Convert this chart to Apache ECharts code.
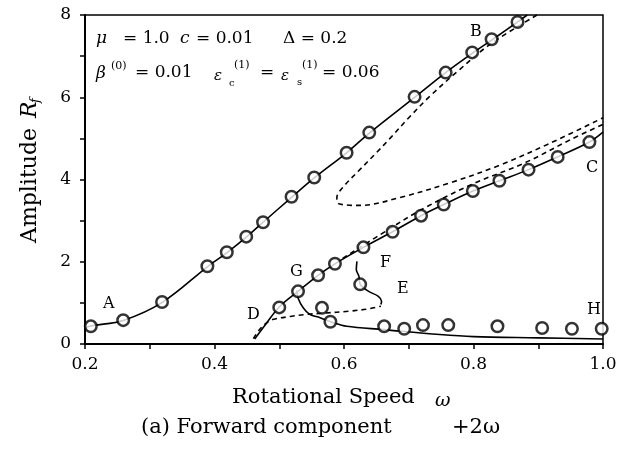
<!DOCTYPE html>
<html>
<head>
<meta charset="utf-8">
<script src="https://cdn.jsdelivr.net/npm/echarts@6/dist/echarts.min.js"></script>
<style>
  html, body { margin: 0; padding: 0; background: #fff; }
  #chart { width: 622px; height: 449px; }
</style>
</head>
<body>
<div id="chart"></div>
<script>
// 上支 A-B：实线 + 圆圈
var abLineX = [0.2, 0.21, 0.26, 0.32, 0.39, 0.42, 0.45, 0.475, 0.52, 0.555, 0.604, 0.64, 0.71, 0.757, 0.8, 0.83, 0.868, 0.883];
var abLineY = [0.40, 0.44, 0.58, 1.02, 1.89, 2.23, 2.61, 2.96, 3.58, 4.05, 4.65, 5.14, 6.01, 6.60, 7.09, 7.41, 7.83, 8.0];
var abDotX = [0.209, 0.259, 0.319, 0.389, 0.419, 0.449, 0.475, 0.519, 0.554, 0.604, 0.639, 0.709, 0.757, 0.798, 0.828, 0.868];
var abDotY = [0.43, 0.58, 1.02, 1.89, 2.23, 2.61, 2.96, 3.58, 4.05, 4.65, 5.14, 6.01, 6.60, 7.09, 7.41, 7.83];

// 上支折回的虚线
var foldX = [0.898, 0.825, 0.779, 0.733, 0.70, 0.671, 0.65, 0.622, 0.60, 0.589, 0.592, 0.625, 0.686, 0.764, 0.841, 0.918, 1.0];
var foldY = [8.0, 7.28, 6.68, 6.03, 5.50, 5.00, 4.65, 4.20, 3.84, 3.56, 3.41, 3.37, 3.56, 3.92, 4.35, 4.88, 5.50];

// 下支 D-G-C：实线 + 圆圈
var cLineX = [0.462, 0.48, 0.50, 0.529, 0.56, 0.586, 0.63, 0.675, 0.719, 0.754, 0.799, 0.84, 0.885, 0.93, 0.979, 1.0];
var cLineY = [0.12, 0.50, 0.90, 1.28, 1.67, 1.95, 2.35, 2.73, 3.12, 3.39, 3.72, 3.97, 4.24, 4.55, 4.91, 5.15];
var cDotX = [0.50, 0.529, 0.56, 0.586, 0.63, 0.675, 0.719, 0.754, 0.799, 0.84, 0.885, 0.93, 0.979];
var cDotY = [0.89, 1.28, 1.67, 1.95, 2.35, 2.73, 3.12, 3.39, 3.72, 3.97, 4.24, 4.55, 4.91];

// C 支上方的虚线
var cDashX = [0.598, 0.656, 0.72, 0.80, 0.88, 0.95, 1.0];
var cDashY = [2.08, 2.66, 3.27, 3.90, 4.41, 4.97, 5.34];

// D-E 虚线
var deX = [0.46, 0.47, 0.481, 0.491, 0.517, 0.542, 0.568, 0.609, 0.64, 0.657];
var deY = [0.13, 0.36, 0.52, 0.60, 0.67, 0.72, 0.75, 0.80, 0.86, 0.92];

// E-F 实线
var efX = [0.620, 0.619, 0.623, 0.625, 0.638, 0.653, 0.658, 0.657];
var efY = [2.01, 1.81, 1.65, 1.45, 1.28, 1.16, 1.04, 0.96];
var eDotX = [0.625];
var eDotY = [1.45];

// G-H 实线 + 圆圈
var ghX = [0.527, 0.529, 0.537, 0.547, 0.563, 0.583, 0.604, 0.661, 0.748, 0.8, 0.9, 1.0];
var ghY = [1.30, 1.12, 0.88, 0.72, 0.64, 0.52, 0.43, 0.35, 0.23, 0.18, 0.15, 0.12];
var hDotX = [0.566, 0.579, 0.662, 0.693, 0.722, 0.761, 0.837, 0.906, 0.952, 0.998];
var hDotY = [0.88, 0.54, 0.43, 0.37, 0.46, 0.46, 0.43, 0.39, 0.37, 0.37];

var xTicks = [0.2, 0.4, 0.6, 0.8, 1.0];
var yTicks = [0, 2, 4, 6, 8];

function zip(xs, ys) {
  return xs.map(function (x, i) { return [x, ys[i]]; });
}

var FONT = "DejaVu Serif";

function curve(name, xs, ys, dashed) {
  return {
    type: "line",
    name: name,
    data: zip(xs, ys),
    smooth: 0.35,
    symbol: "none",
    silent: true,
    lineStyle: { color: "#000", width: 1.6, type: dashed ? [5, 4] : "solid" },
    z: 2
  };
}

function txt(x, y, s, size, italic, align) {
  return {
    type: "text",
    x: x,
    y: y,
    style: {
      text: s,
      fontFamily: FONT,
      fontSize: size,
      fontStyle: italic ? "italic" : "normal",
      fill: "#000",
      align: align || "left",
      verticalAlign: "middle"
    }
  };
}

var chart = echarts.init(document.getElementById("chart"));
chart.setOption({
  backgroundColor: "#fff",
  animation: false,
  grid: {
    left: 85, right: 19, top: 15, bottom: 105,
    show: true, borderColor: "#000", borderWidth: 1.5
  },
  xAxis: {
    type: "value",
    min: xTicks[0],
    max: xTicks[xTicks.length - 1],
    interval: 0.2,
    axisLine: { lineStyle: { color: "#000", width: 2 } },
    axisTick: { inside: false, length: 5, lineStyle: { color: "#000", width: 1.5 } },
    minorTick: { show: true, splitNumber: 2, length: 5, lineStyle: { color: "#000", width: 1.5 } },
    splitLine: { show: false },
    axisLabel: {
      margin: 12, color: "#000", fontFamily: FONT, fontSize: 17,
      formatter: function (v) { return v.toFixed(1); }
    }
  },
  yAxis: {
    type: "value",
    min: yTicks[0],
    max: yTicks[yTicks.length - 1],
    interval: 2,
    axisLine: { show: true, lineStyle: { color: "#000", width: 2 } },
    axisTick: { show: true, inside: false, length: 5, lineStyle: { color: "#000", width: 1.5 } },
    minorTick: { show: true, splitNumber: 2, length: 5, lineStyle: { color: "#000", width: 1.5 } },
    splitLine: { show: false },
    axisLabel: { margin: 14, color: "#000", fontFamily: FONT, fontSize: 17 }
  },
  series: [
    curve("AB", abLineX, abLineY, false),
    curve("fold", foldX, foldY, true),
    curve("C", cLineX, cLineY, false),
    curve("C dashed", cDashX, cDashY, true),
    curve("DE", deX, deY, true),
    curve("EF", efX, efY, false),
    curve("GH", ghX, ghY, false),
    {
      type: "scatter",
      name: "circles",
      data: zip(abDotX, abDotY)
        .concat(zip(cDotX, cDotY))
        .concat(zip(eDotX, eDotY))
        .concat(zip(hDotX, hDotY)),
      symbol: "circle",
      symbolSize: 11.5,
      itemStyle: { color: "#fff", borderColor: "#000", borderWidth: 2.5 },
      silent: true,
      z: 3
    }
  ],
  graphic: [
    // 曲线标注
    txt(103, 304, "A", 16),
    txt(470, 32, "B", 16),
    txt(586, 168, "C", 16),
    txt(247, 315, "D", 16),
    txt(397, 289, "E", 16),
    txt(380, 263, "F", 16),
    txt(290, 272, "G", 16),
    txt(587, 310, "H", 16),
    // 参数
    txt(96, 39, "μ", 17, true),
    txt(123, 39, "= 1.0", 17),
    txt(180, 39, "c", 17, true),
    txt(196, 39, "= 0.01", 17),
    txt(283, 39, "Δ = 0.2", 17),
    txt(96, 74, "β", 17, true),
    txt(111, 66, "(0)", 11),
    txt(135, 73, "= 0.01", 17),
    txt(214, 76, "ε", 15, true),
    txt(229, 83, "c", 10),
    txt(234, 65, "(1)", 11),
    txt(260, 73, "=", 17),
    txt(281, 76, "ε", 15, true),
    txt(297, 82, "s", 10),
    txt(302, 65, "(1)", 11),
    txt(322, 73, "= 0.06", 17),
    // x 轴标题和图注
    txt(232, 398, "Rotational Speed", 21),
    txt(435, 401, "ω", 19, true),
    txt(141, 428, "(a) Forward component", 21),
    txt(452, 428, "+2ω", 21),
    // y 轴标题（旋转）
    {
      type: "group",
      x: 30,
      y: 170,
      rotation: Math.PI / 2,
      children: [
        txt(-73, 0, "Amplitude", 22),
        txt(52, 0, "R", 22, true),
        txt(67, 6, "f", 13, true)
      ]
    }
  ]
});
</script>
</body>
</html>
